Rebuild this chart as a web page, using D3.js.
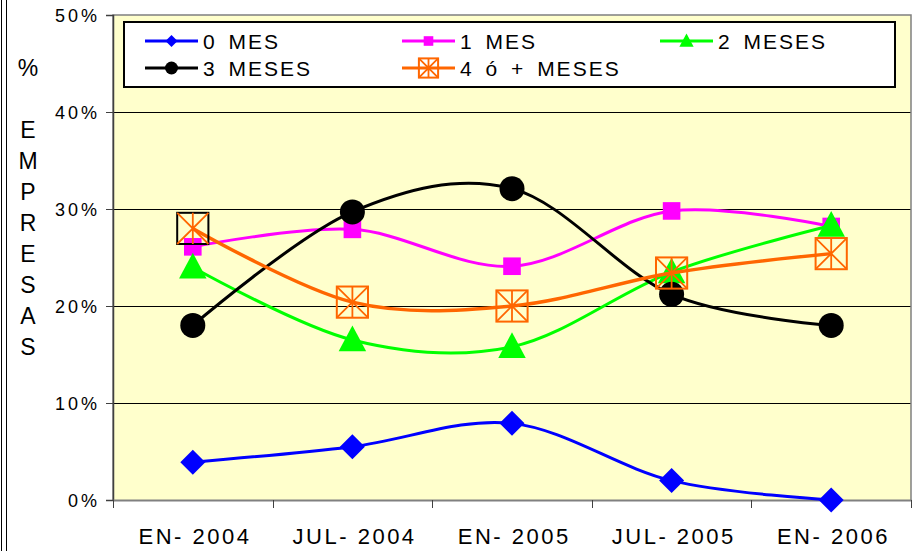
<!DOCTYPE html>
<html lang="es">
<head>
<meta charset="UTF-8">
<title>Empresas por meses</title>
<script src="https://cdn.jsdelivr.net/npm/d3@7"></script>
<style>
  body { margin: 0; background: #fff; }
  svg { display: block; font-family: "Liberation Sans", Arial, sans-serif; }
  .ytick text { font-size: 18px; letter-spacing: 3px; fill: #000; }
  .xtick text { font-size: 22px; letter-spacing: 2.5px; fill: #000; }
  .legend text { font-size: 21px; letter-spacing: 2px; word-spacing: 4px; fill: #000; }
</style>
</head>
<body>
<script>
// data
const categories = ["EN- 2004", "JUL- 2004", "EN- 2005", "JUL- 2005", "EN- 2006"];
const seriesNames = ["0 MES", "1 MES", "2 MESES", "3 MESES", "4 ó + MESES"];
const mes0 = [3.9, 5.5, 7.9, 2.0, 0.0];
const mes1 = [26.1, 27.9, 24.1, 29.8, 28.2];
const mes2 = [24.0, 16.5, 15.8, 23.5, 28.3];
const mes3 = [18.0, 29.7, 32.1, 21.2, 18.0];
const mes4 = [28.0, 20.4, 20.0, 23.4, 25.4];
const yTicks = [0, 10, 20, 30, 40, 50];
const yTitle = ["%", "", "E", "M", "P", "R", "E", "S", "A", "S"];

const colors = ["#0000FF", "#FF00FF", "#00FF00", "#000000", "#FF6600"];
const shapes = ["diamond", "square", "triangle", "circle", "starbox"];
const allSeries = [mes0, mes1, mes2, mes3, mes4];

const W = 916, H = 551;
const plot = { left: 113, right: 911, top: 15, bottom: 500 };

const svg = d3.select("body").append("svg").attr("width", W).attr("height", H);

// outer frame lines on the left
svg.append("line").attr("x1", 1.5).attr("x2", 1.5).attr("y1", 0).attr("y2", H).attr("stroke", "#000");
svg.append("line").attr("x1", 6.5).attr("x2", 6.5).attr("y1", 0).attr("y2", H).attr("stroke", "#000");

const x = d3.scaleBand().domain(categories).range([plot.left, plot.right]).padding(0);
const y = d3.scaleLinear().domain([0, 50]).range([plot.bottom, plot.top]);
const cx = c => x(c) + x.bandwidth() / 2;

// plot area
svg.append("rect")
  .attr("x", plot.left).attr("y", plot.top)
  .attr("width", plot.right - plot.left).attr("height", plot.bottom - plot.top)
  .attr("fill", "#FFFFCC");

// gridlines
svg.append("g").selectAll("line")
  .data(yTicks.filter(d => d > 0 && d < 50))
  .join("line")
  .attr("x1", plot.left).attr("x2", plot.right)
  .attr("y1", d => Math.round(y(d)) + 0.5).attr("y2", d => Math.round(y(d)) + 0.5)
  .attr("stroke", "#000").attr("stroke-width", 1);

// plot border
svg.append("path")
  .attr("d", `M${plot.left},${plot.bottom}V${plot.top}H${plot.right}V${plot.bottom}`)
  .attr("fill", "none").attr("stroke", "#808080").attr("stroke-width", 1.5);

// y axis
const yAxis = d3.axisLeft(y).tickValues(yTicks).tickSize(7).tickPadding(6).tickFormat(d => d + "%");
const gy = svg.append("g").attr("class", "ytick").attr("transform", `translate(${plot.left},0)`).call(yAxis);
gy.select(".domain").attr("stroke", "#404040").attr("stroke-width", 1.5);
gy.selectAll(".tick line").attr("stroke", "#404040");
gy.selectAll(".tick text").attr("font-family", null).attr("font-size", null).attr("dy", "0.35em").attr("x", -13);

// x axis (labels at band centres, ticks at band edges)
const xAxis = d3.axisBottom(x).tickSize(0).tickPadding(28);
const gx = svg.append("g").attr("class", "xtick").attr("transform", `translate(0,${plot.bottom})`).call(xAxis);
gx.select(".domain").attr("stroke", "#808080").attr("stroke-width", 2);
gx.selectAll(".tick text").attr("font-family", null).attr("font-size", null).attr("dx", "0.1em");
svg.append("g").selectAll("line")
  .data(d3.range(categories.length + 1))
  .join("line")
  .attr("x1", i => Math.round(plot.left + i * x.bandwidth()) + 0.5)
  .attr("x2", i => Math.round(plot.left + i * x.bandwidth()) + 0.5)
  .attr("y1", plot.bottom).attr("y2", plot.bottom + 8)
  .attr("stroke", "#404040");

// y axis title, stacked letters
svg.append("g").selectAll("text")
  .data(yTitle)
  .join("text")
  .attr("x", 28).attr("y", (d, i) => 76 + i * 31)
  .attr("text-anchor", "middle")
  .attr("font-size", 23)
  .text(d => d);

// marker drawing
function marker(g, shape, color, s, edge) {
  if (shape === "diamond") {
    g.append("path").attr("d", `M0,${-s}L${s},0L0,${s}L${-s},0Z`).attr("fill", color);
  } else if (shape === "square") {
    g.append("rect").attr("x", -s * 0.8).attr("y", -s * 0.8).attr("width", s * 1.6).attr("height", s * 1.6).attr("fill", color);
  } else if (shape === "triangle") {
    g.append("path").attr("d", `M0,${-s * 1.15}L${s * 1.1},${s * 0.9}L${-s * 1.1},${s * 0.9}Z`).attr("fill", color);
  } else if (shape === "circle") {
    g.append("circle").attr("r", s).attr("fill", color);
  } else if (shape === "starbox") {
    const b = s * 1.2;
    g.append("rect").attr("x", -b).attr("y", -b).attr("width", 2 * b).attr("height", 2 * b)
      .attr("fill", "none").attr("stroke", edge || color).attr("stroke-width", 2);
    g.append("path")
      .attr("d", `M${-b},${-b}L${b},${b}M${b},${-b}L${-b},${b}M0,${-b}V${b}`)
      .attr("stroke", color).attr("stroke-width", 1.8).attr("fill", "none");
  }
}

const line = d3.line()
  .x((d, i) => cx(categories[i]))
  .y(d => y(d))
  .curve(d3.curveCatmullRom.alpha(0));

allSeries.forEach((vals, k) => {
  const g = svg.append("g");
  g.append("path").datum(vals)
    .attr("d", line)
    .attr("fill", "none")
    .attr("stroke", colors[k])
    .attr("stroke-width", k === 4 ? 3.5 : 3);
  vals.forEach((v, i) => {
    const m = g.append("g").attr("transform", `translate(${cx(categories[i])},${y(v)})`);
    const size = [12.5, 11, 12.5, 12.5, 13][k];
    // first point of the last series has a black frame in the original
    marker(m, shapes[k], colors[k], size, (k === 4 && i === 0) ? "#000" : null);
  });
});

// legend
const lg = svg.append("g").attr("class", "legend");
lg.append("rect").attr("x", 124).attr("y", 22).attr("width", 771).attr("height", 65)
  .attr("fill", "#fff").attr("stroke", "#000").attr("stroke-width", 2);
const colX = [145, 402, 660];
const rowY = [41, 68];
seriesNames.forEach((name, k) => {
  const lx = colX[k % 3], ly = rowY[Math.floor(k / 3)];
  const e = lg.append("g");
  e.append("line").attr("x1", lx).attr("x2", lx + 53).attr("y1", ly).attr("y2", ly)
    .attr("stroke", colors[k]).attr("stroke-width", 3);
  const m = e.append("g").attr("transform", `translate(${lx + 26.5},${ly})`);
  marker(m, shapes[k], colors[k], [6, 6, 6.5, 6.5, 8][k]);
  e.append("text").attr("x", lx + 58).attr("y", ly).attr("dy", "0.36em").text(name);
});
</script>
</body>
</html>
